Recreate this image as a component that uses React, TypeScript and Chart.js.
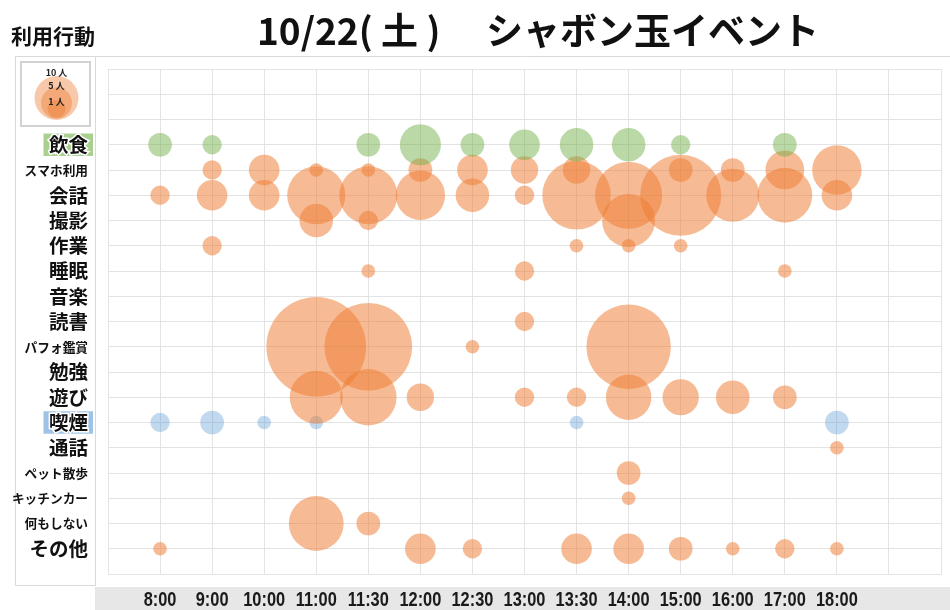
import React, { useEffect, useRef } from "react";
import { Chart, registerables } from "chart.js";
Chart.register(...registerables);

const timeLabels = ["8:00", "9:00", "10:00", "11:00", "11:30", "12:00", "12:30", "13:00", "13:30", "14:00", "15:00", "16:00", "17:00", "18:00"];
const activityLabels = ["飲食", "スマホ利用", "会話", "撮影", "作業", "睡眠", "音楽", "読書", "パフォ鑑賞", "勉強", "遊び", "喫煙", "通話", "ペット散歩", "キッチンカー", "何もしない", "その他"];
const smallLabels = ["スマホ利用", "パフォ鑑賞", "ペット散歩", "キッチンカー", "何もしない"];
const legendLabels = ["10 人", "5 人", "1 人"];

// people per time slot (8:00 ... 18:00)
const eating = [3, 2, 0, 0, 3, 9, 3, 5, 6, 6, 2, 0, 3, 0];
const phone = [0, 2, 5, 1, 1, 3, 5, 4, 4, 0, 3, 3, 8, 13];
const talk = [2, 5, 5, 18, 18, 13, 6, 2, 25, 24, 35, 15, 16, 5];
const photo = [0, 0, 0, 6, 2, 0, 0, 0, 0, 15, 0, 0, 0, 0];
const work = [0, 2, 0, 0, 0, 0, 0, 0, 1, 1, 1, 0, 0, 0];
const sleep = [0, 0, 0, 0, 1, 0, 0, 2, 0, 0, 0, 0, 1, 0];
const music = [0, 0, 0, 0, 0, 0, 0, 0, 0, 0, 0, 0, 0, 0];
const reading = [0, 0, 0, 0, 0, 0, 0, 2, 0, 0, 0, 0, 0, 0];
const performance = [0, 0, 0, 53, 41, 0, 1, 0, 0, 38, 0, 0, 0, 0];
const study = [0, 0, 0, 0, 0, 0, 0, 0, 0, 0, 0, 0, 0, 0];
const play = [0, 0, 0, 15, 17, 4, 0, 2, 2, 11, 7, 6, 3, 0];
const smoking = [2, 3, 1, 1, 0, 0, 0, 0, 1, 0, 0, 0, 0, 3];
const call = [0, 0, 0, 0, 0, 0, 0, 0, 0, 0, 0, 0, 0, 1];
const petWalk = [0, 0, 0, 0, 0, 0, 0, 0, 0, 3, 0, 0, 0, 0];
const kitchenCar = [0, 0, 0, 0, 0, 0, 0, 0, 0, 1, 0, 0, 0, 0];
const nothing = [0, 0, 0, 16, 3, 0, 0, 0, 0, 0, 0, 0, 0, 0];
const other = [1, 0, 0, 0, 0, 5, 2, 0, 5, 5, 3, 1, 2, 1];

const activityValues = [eating, phone, talk, photo, work, sleep, music, reading, performance, study, play, smoking, call, petWalk, kitchenCar, nothing, other];

const ORANGE = "rgba(237,125,49,0.52)";
const GREEN = "rgba(112,173,71,0.48)";
const BLUE = "rgba(91,155,213,0.38)";
const GRID = "#e3e3e3";
const RADIUS_K = 6.85;
const Y_OFFSET = 3;
const CJK = '"Noto Sans CJK JP", "Noto Sans", sans-serif';
const XFONT = '"Liberation Sans", Arial, sans-serif';

function buildPoints(values: number[], row: number) {
  const pts: any[] = [];
  values.forEach((v, j) => {
    if (v > 0) pts.push({ x: j + 1, y: row + Y_OFFSET, r: RADIUS_K * Math.sqrt(v), v });
  });
  return pts;
}

const decorPlugin = {
  id: "decor",
  beforeDraw(chart: any) {
    const ctx = chart.ctx;
    ctx.save();
    ctx.fillStyle = "#fff";
    ctx.fillRect(0, 0, chart.width, chart.height);
    // gray band for x labels
    ctx.fillStyle = "#e7e7e7";
    ctx.fillRect(95, 587, chart.width - 95, chart.height - 587);
    // frame lines
    ctx.strokeStyle = "#dadada";
    ctx.lineWidth = 1;
    ctx.strokeRect(15.5, 56.5, 80, 529);
    ctx.beginPath();
    ctx.moveTo(95, 56.5);
    ctx.lineTo(chart.width, 56.5);
    ctx.stroke();
    // legend box
    ctx.strokeStyle = "#d2d2d2";
    ctx.lineWidth = 2;
    ctx.strokeRect(21, 62, 69, 64);
    const cx = 56.5;
    const circles = [
      { y: 98, r: 22 },
      { y: 103, r: 15.5 },
      { y: 109, r: 9 },
    ];
    circles.forEach((c) => {
      ctx.beginPath();
      ctx.fillStyle = "rgba(237,125,49,0.42)";
      ctx.arc(cx, c.y, c.r, 0, Math.PI * 2);
      ctx.fill();
    });
    ctx.fillStyle = "#222";
    ctx.font = `bold 9px ${CJK}`;
    ctx.textAlign = "center";
    ctx.textBaseline = "middle";
    const ly = [72.5, 85.5, 101.5];
    legendLabels.forEach((t, i) => ctx.fillText(t, cx, ly[i]));
    // titles
    ctx.fillStyle = "#111";
    ctx.textAlign = "left";
    ctx.font = `bold 21px ${CJK}`;
    ctx.fillText("利用行動", 11, 36);
    ctx.font = `bold 37px ${CJK}`;
    ctx.fillText("10/22( 土 )", 257, 31);
    ctx.fillText("シャボン玉イベント", 486, 31);
    ctx.restore();
  },
  afterDraw(chart: any) {
    // condensed bold time labels under the x scale
    const ctx = chart.ctx;
    const xs = chart.scales.x;
    ctx.save();
    ctx.fillStyle = "#1a1a1a";
    ctx.font = `bold 19.5px ${XFONT}`;
    ctx.textAlign = "center";
    ctx.textBaseline = "middle";
    const sx = 0.84;
    timeLabels.forEach((t, i) => {
      const px = xs.getPixelForValue(i + 1);
      ctx.save();
      ctx.translate(px, 601);
      ctx.scale(sx, 1);
      ctx.fillText(t, 0, 0);
      ctx.restore();
    });
    ctx.restore();
  },
};

export default function App() {
  const ref = useRef<HTMLCanvasElement | null>(null);
  useEffect(() => {
    document.body.style.margin = "0";
    const datasets: any[] = [];
    activityValues.forEach((vals, i) => {
      const label = activityLabels[i];
      const color = label === "飲食" ? GREEN : label === "喫煙" ? BLUE : ORANGE;
      datasets.push({
        label,
        data: buildPoints(vals, i),
        backgroundColor: color,
        borderWidth: 0,
        hoverBorderWidth: 0,
      });
    });
    const chart = new Chart(ref.current as HTMLCanvasElement, {
      type: "bubble",
      data: { datasets },
      plugins: [decorPlugin],
      options: {
        animation: false,
        responsive: false,
        layout: { autoPadding: false, padding: { top: 69, right: 9, left: 0, bottom: 0 } },
        plugins: { legend: { display: false }, tooltip: { enabled: false }, title: { display: false } },
        scales: {
          x: {
            type: "linear",
            min: 0,
            max: 16,
            position: "bottom",
            afterFit: (s: any) => {
              s.height = 36;
            },
            grid: { color: GRID, drawTicks: false },
            border: { color: GRID },
            ticks: {
              display: false,
              stepSize: 1,
              autoSkip: false,
              maxRotation: 0,
              callback: (v: any) => timeLabels[Number(v) - 1] ?? "",
            },
          },
          y: {
            type: "linear",
            min: 0,
            max: 20,
            reverse: true,
            afterFit: (s: any) => {
              s.width = 108;
            },
            grid: { color: GRID, drawTicks: false },
            border: { color: GRID },
            ticks: {
              stepSize: 1,
              autoSkip: false,
              padding: 20,
              color: "#111",
              callback: (v: any) => activityLabels[Number(v) - Y_OFFSET] ?? "",
              font: (c: any) => {
                const lab = activityLabels[Number(c.tick?.value) - Y_OFFSET];
                return smallLabels.includes(lab)
                  ? { family: CJK, size: 12.7, weight: "bold", lineHeight: 1.2 }
                  : { family: CJK, size: 19.5, weight: "bold", lineHeight: 1.15 };
              },
              showLabelBackdrop: true,
              backdropPadding: { left: 5.5, right: 5, top: 0, bottom: 0 },
              backdropColor: (c: any) => {
                const lab = activityLabels[Number(c.tick?.value) - Y_OFFSET];
                if (lab === "飲食") return "#a9d08e";
                if (lab === "喫煙") return "#9dc3e6";
                return "rgba(0,0,0,0)";
              },
              textStrokeColor: "#ffffff",
              textStrokeWidth: (c: any) => {
                const lab = activityLabels[Number(c.tick?.value) - Y_OFFSET];
                return lab === "飲食" || lab === "喫煙" ? 3 : 0;
              },
            },
          },
        },
      } as any,
    });
    return () => chart.destroy();
  }, []);
  return <canvas ref={ref} width={950} height={610} style={{ display: "block" }} />;
}
